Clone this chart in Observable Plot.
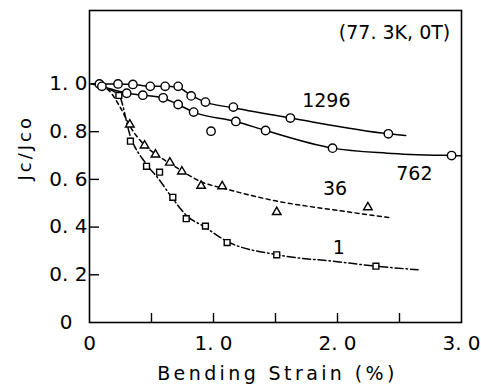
<!DOCTYPE html>
<html><head><meta charset="utf-8">
<script src="https://cdn.jsdelivr.net/npm/d3@7"></script>
<script src="https://cdn.jsdelivr.net/npm/@observablehq/plot@0.6"></script>
<style>body{margin:0;background:#fff}</style>
</head><body><div id="chart"></div>
<script>
// Tick values
const xLabelTicks = [0, 1, 2, 3];
const xMinorTicks = [0.5, 1, 1.5, 2, 2.5];
const yTicks = [0.2, 0.4, 0.6, 0.8, 1.0];

// Measured points (bending strain %, Jc/Jc0)
const pts1296 = [[0.08,1.0],[0.23,1.0],[0.35,0.998],[0.49,0.99],[0.61,0.99],[0.715,0.99],[0.82,0.95],[0.935,0.924],[1.16,0.903],[1.62,0.857],[2.41,0.791]];
const pts762 = [[0.10,0.99],[0.30,0.961],[0.43,0.953],[0.594,0.942],[0.715,0.914],[0.84,0.882],[0.98,0.802],[1.18,0.843],[1.42,0.805],[1.96,0.731],[2.92,0.70]];
const pts36 = [[0.325,0.83],[0.444,0.742],[0.532,0.704],[0.648,0.67],[0.745,0.633],[0.90,0.573],[1.07,0.571],[1.51,0.463],[2.245,0.483]];
const pts1 = [[0.237,0.952],[0.33,0.76],[0.46,0.655],[0.565,0.63],[0.672,0.525],[0.78,0.435],[0.935,0.404],[1.11,0.335],[1.51,0.284],[2.31,0.236]];

// Fitted curves drawn through the data
const fit1296 = [[0.02,1.0],[0.08,1.0],[0.23,1.0],[0.35,0.998],[0.49,0.99],[0.61,0.99],[0.715,0.985],[0.82,0.952],[0.935,0.924],[1.16,0.9],[1.62,0.857],[2.41,0.791],[2.55,0.784]];
const fit762 = [[0.02,1.0],[0.10,0.99],[0.30,0.961],[0.43,0.953],[0.594,0.94],[0.715,0.914],[0.84,0.882],[1.18,0.843],[1.42,0.805],[1.96,0.731],[2.4,0.71],[2.92,0.70],[3.0,0.699]];
const fit36 = [[0.03,1.0],[0.15,0.975],[0.25,0.9],[0.33,0.82],[0.45,0.74],[0.55,0.70],[0.7,0.65],[0.9,0.59],[1.1,0.56],[1.5,0.51],[2.0,0.47],[2.42,0.44]];
const fit1 = [[0.03,1.0],[0.15,0.98],[0.24,0.95],[0.33,0.78],[0.45,0.67],[0.56,0.60],[0.67,0.52],[0.78,0.45],[0.93,0.40],[1.11,0.34],[1.5,0.285],[2.0,0.255],[2.31,0.236],[2.65,0.221]];

// Curve labels
const curveLabels = ["1296", "762", "36", "1", "(77. 3K, 0T)"];
const curveLabelX = [1.91, 2.62, 1.98, 2.01, 2.46];
const curveLabelY = [0.931, 0.625, 0.558, 0.314, 1.212];
const labelRows = curveLabels.map((t, i) => ({t, x: curveLabelX[i], y: curveLabelY[i]}));

const xTitle = "Bending Strain (%)";
const yTitle = "Jc/Jco";

const FONT = "'DejaVu Sans', sans-serif";
const fmt = d => d === 0 ? "0" : d.toFixed(1).replace(".", ". ");

const chart = Plot.plot({
  width: 481, height: 388,
  marginLeft: 89, marginRight: 20, marginTop: 10, marginBottom: 66,
  style: {fontFamily: FONT, fontSize: "20px", color: "black", background: "white", overflow: "visible"},
  x: {domain: [0, 3]},
  y: {domain: [0, 1.308]},
  marks: [
    Plot.frame({stroke: "black", strokeWidth: 1.6}),
    Plot.axisX({ticks: xMinorTicks, tickSize: -9, text: null, label: null, strokeWidth: 1.4}),
    Plot.axisX({ticks: xLabelTicks, tickSize: 0, tickPadding: 13, tickFormat: fmt, label: null}),
    Plot.axisY({ticks: yTicks, tickSize: -10, text: null, label: null, strokeWidth: 1.4}),
    Plot.axisY({ticks: yTicks, tickSize: 0, tickPadding: 2, tickFormat: fmt, label: null}),
    Plot.axisY({ticks: [0], tickSize: 0, tickPadding: 17, tickFormat: fmt, label: null}),
    Plot.line(fit1296, {x: d => d[0], y: d => d[1], curve: "monotone-x", stroke: "black", strokeWidth: 1.5}),
    Plot.line(fit762, {x: d => d[0], y: d => d[1], curve: "monotone-x", stroke: "black", strokeWidth: 1.5}),
    Plot.line(fit36, {x: d => d[0], y: d => d[1], curve: "monotone-x", stroke: "black", strokeWidth: 1.5, strokeDasharray: "4,3.5"}),
    Plot.line(fit1, {x: d => d[0], y: d => d[1], curve: "monotone-x", stroke: "black", strokeWidth: 1.5, strokeDasharray: "8,3,1.5,3"}),
    Plot.dot(pts1296, {x: d => d[0], y: d => d[1], r: 4.2, fill: "white", stroke: "black", strokeWidth: 1.4}),
    Plot.dot(pts762, {x: d => d[0], y: d => d[1], r: 4.2, fill: "white", stroke: "black", strokeWidth: 1.4}),
    Plot.dot(pts36, {x: d => d[0], y: d => d[1], symbol: "triangle", r: 3.2, fill: "white", stroke: "black", strokeWidth: 1.4}),
    Plot.dot(pts1, {x: d => d[0], y: d => d[1], symbol: "square", r: 3.3, fill: "white", stroke: "black", strokeWidth: 1.4}),
    Plot.text(labelRows, {x: "x", y: "y", text: "t", fontSize: 19, fill: "black"}),
    Plot.text([xTitle], {frameAnchor: "bottom", dy: 57, dx: 2, fontSize: 19, fill: "black"}),
    Plot.text([yTitle], {frameAnchor: "left", dx: -64, dy: 14, rotate: -90, fontSize: 18, fill: "black"})
  ]
});
document.getElementById("chart").appendChild(chart);
d3.select(chart).selectAll("text").filter(function() { return this.textContent === xTitle; }).style("letter-spacing", "3.4px");
d3.select(chart).selectAll("text").filter(function() { return this.textContent === yTitle; }).style("letter-spacing", "3px");
</script>
</body></html>
